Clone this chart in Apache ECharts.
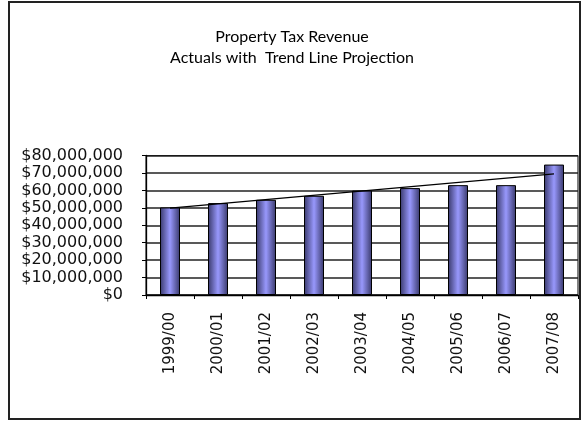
<!DOCTYPE html>
<html>
<head>
<meta charset="utf-8">
<script src="https://cdn.jsdelivr.net/npm/echarts@6/dist/echarts.min.js"></script>
<style>
html,body{margin:0;padding:0;background:#fff;}
#c{width:584px;height:421px;}
</style>
</head>
<body>
<div id="c"></div>
<script>
var categories = ['1999/00','2000/01','2001/02','2002/03','2003/04','2004/05','2005/06','2006/07','2007/08'];
var revenue = [50200000, 52700000, 54600000, 56900000, 59900000, 61300000, 63000000, 63000000, 74800000];
var trend = [49800000, null, null, null, null, null, null, null, 69500000];
var yTicks = {min: 0, max: 80000000, interval: 10000000};

function money(v){
  return '$' + String(Math.round(v)).replace(/\B(?=(\d{3})+(?!\d))/g, ',');
}

var chart = echarts.init(document.getElementById('c'), null, {renderer: 'canvas'});
chart.setOption({
  animation: false,
  backgroundColor: '#fff',
  title: {
    text: 'Property Tax Revenue\nActuals with  Trend Line Projection',
    left: 'center',
    top: 21,
    textStyle: {fontFamily: 'Lato', fontSize: 16, fontWeight: 'normal', color: '#000', lineHeight: 21}
  },
  graphic: [{
    type: 'rect',
    shape: {x: 9, y: 2, width: 571, height: 417},
    style: {fill: 'none', stroke: '#222', lineWidth: 2},
    silent: true
  }],
  grid: {left: 146, right: 6, top: 155.5, bottom: 126, show: true, borderColor: '#000', borderWidth: 1, backgroundColor: 'transparent'},
  xAxis: {
    type: 'category',
    data: categories,
    boundaryGap: true,
    axisLine: {lineStyle: {color: '#000', width: 1.3}},
    axisTick: {show: true, alignWithLabel: false, length: 4, inside: false, lineStyle: {color: '#000'}},
    axisLabel: {rotate: 90, margin: 17, fontFamily: 'DejaVu Sans', fontSize: 15, color: '#111'}
  },
  yAxis: {
    type: 'value',
    min: yTicks.min, max: yTicks.max, interval: yTicks.interval,
    axisLine: {show: true, lineStyle: {color: '#000', width: 1.3}},
    axisTick: {show: true, length: 4, inside: false, lineStyle: {color: '#000'}},
    splitLine: {show: true, lineStyle: {color: '#222', width: 1.5}},
    axisLabel: {margin: 23, fontFamily: 'DejaVu Sans', fontSize: 16, color: '#111', formatter: money}
  },
  series: [{
    type: 'bar',
    data: revenue,
    barWidth: 20,
    itemStyle: {
      color: new echarts.graphic.LinearGradient(0, 0, 1, 0, [
        {offset: 0, color: '#38386a'},
        {offset: 0.5, color: '#9898fc'},
        {offset: 1, color: '#38386a'}
      ]),
      borderColor: '#000',
      borderWidth: 1
    },
    z: 2
  }, {
    type: 'line',
    data: trend,
    connectNulls: true,
    symbol: 'none',
    lineStyle: {color: '#000', width: 1.3},
    z: 3
  }]
});
</script>
</body>
</html>
